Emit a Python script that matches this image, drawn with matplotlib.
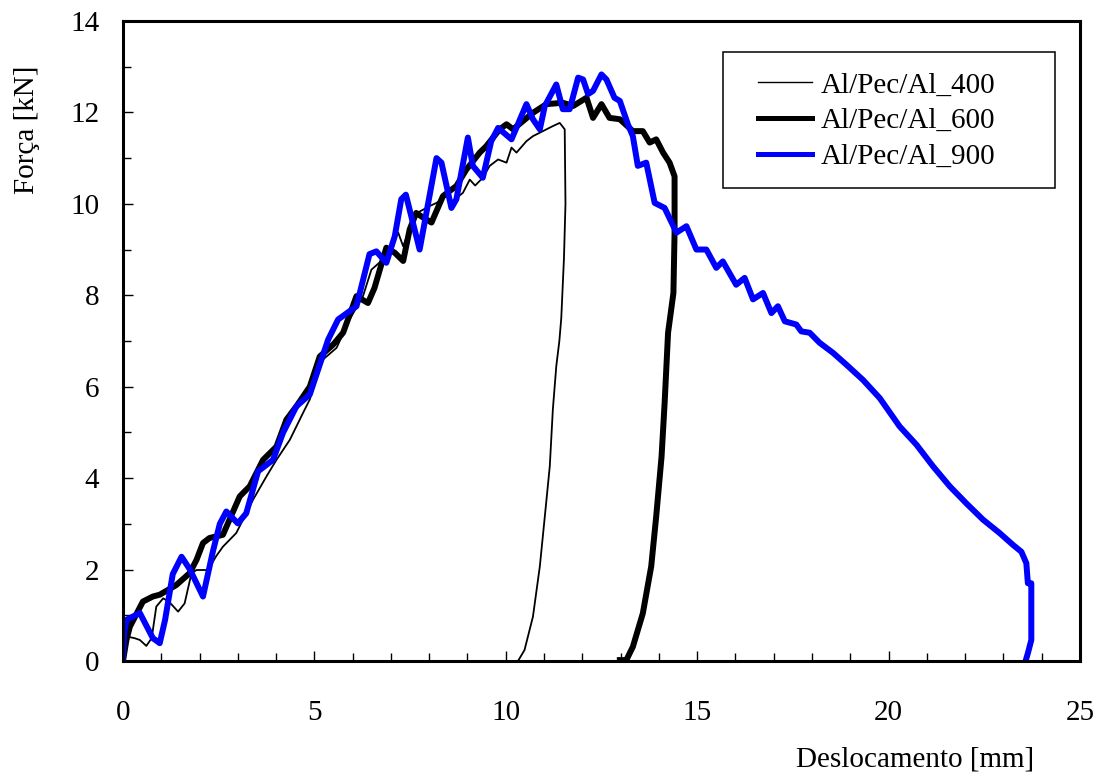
import matplotlib
matplotlib.use("Agg")
import matplotlib.pyplot as plt
from matplotlib.patches import Rectangle
from matplotlib.ticker import MultipleLocator

# Al/Pec/Al_400 (thin black)
x400 = [0, 0.04, 0.13, 0.30, 0.44, 0.61, 0.75, 0.87, 1.05, 1.20, 1.44, 1.61, 1.79, 1.92,
        2.22, 2.44, 2.61, 2.96, 3.40, 3.75, 4.01, 4.36, 4.70, 4.88, 5.22, 5.58, 5.92,
        6.27, 6.49, 6.79, 7.19, 7.32, 7.62, 8.01, 8.19, 8.45, 8.60, 8.88, 9.06, 9.20,
        9.40, 9.58, 9.80, 10.02, 10.15, 10.28, 10.54, 10.71, 10.97, 11.23, 11.41, 11.54,
        11.56, 11.52, 11.45, 11.40, 11.32, 11.23, 11.15, 11.02, 10.89, 10.71, 10.49, 10.32]
y400 = [0, 0.45, 0.53, 0.50, 0.46, 0.33, 0.50, 1.19, 1.37, 1.30, 1.08, 1.26, 1.92, 1.99,
        1.99, 2.30, 2.50, 2.80, 3.53, 4.04, 4.40, 4.84, 5.42, 5.72, 6.59, 6.85, 7.47,
        7.98, 8.56, 8.78, 9.37, 9.07, 9.77, 9.95, 10.02, 10.17, 10.05, 10.24, 10.53, 10.40,
        10.57, 10.83, 10.97, 10.90, 11.23, 11.12, 11.37, 11.48, 11.59, 11.70, 11.77, 11.63,
        10.0, 8.80, 7.50, 7.00, 6.45, 5.50, 4.26, 3.16, 2.07, 0.97, 0.24, 0.0]

# Al/Pec/Al_600 (thick black)
x600 = [0, 0.09, 0.18, 0.52, 0.78, 0.96, 1.39, 1.74, 1.92, 2.09, 2.26, 2.61, 3.05, 3.31,
        3.66, 4.01, 4.27, 4.53, 4.88, 5.14, 5.49, 5.75, 6.10, 6.40, 6.57, 6.71, 6.88,
        7.10, 7.32, 7.49, 7.66, 7.84, 8.06, 8.36, 8.71, 8.97, 9.32, 9.49, 9.84, 10.02,
        10.19, 10.71, 11.06, 11.49, 11.76, 12.11, 12.28, 12.50, 12.71, 12.98, 13.32, 13.58,
        13.76, 13.93, 14.11, 14.28, 14.41, 14.41, 14.38, 14.24, 14.15, 14.07, 13.93, 13.80,
        13.58, 13.32, 13.15, 12.98]
y600 = [0, 0.46, 0.75, 1.30, 1.41, 1.45, 1.66, 1.92, 2.21, 2.58, 2.69, 2.76, 3.60, 3.82,
        4.40, 4.69, 5.28, 5.57, 6.00, 6.66, 6.92, 7.18, 7.98, 7.83, 8.16, 8.56, 9.04,
        8.93, 8.75, 9.44, 9.80, 9.70, 9.59, 10.17, 10.39, 10.75, 11.12, 11.26, 11.63, 11.74,
        11.63, 11.99, 12.18, 12.21, 12.14, 12.32, 11.88, 12.18, 11.88, 11.85, 11.59, 11.59,
        11.34, 11.41, 11.12, 10.90, 10.60, 9.37, 8.05, 7.18, 5.64, 4.47, 3.16, 2.07,
        1.04, 0.31, 0.02, 0.02]

# Al/Pec/Al_900 (blue)
x900 = [0, 0.03, 0.09, 0.44, 0.78, 0.96, 1.10, 1.30, 1.53, 1.75, 2.09, 2.35, 2.53, 2.70,
        3.00, 3.22, 3.53, 3.92, 4.18, 4.53, 4.88, 5.36, 5.62, 6.10, 6.44, 6.62, 6.88,
        7.10, 7.27, 7.39, 7.75, 8.19, 8.32, 8.58, 8.71, 9.01, 9.14, 9.40, 9.62, 9.80,
        10.15, 10.54, 10.71, 10.89, 11.02, 11.32, 11.49, 11.67, 11.89, 12.02, 12.15, 12.28,
        12.50, 12.63, 12.84, 12.98, 13.19, 13.32, 13.45, 13.67, 13.89, 14.15, 14.46, 14.72,
        14.98, 15.24, 15.50, 15.67, 16.02, 16.24, 16.46, 16.72, 16.94, 17.11, 17.29, 17.59,
        17.72, 17.94, 18.20, 18.55, 18.90, 19.33, 19.77, 20.29, 20.73, 21.16, 21.60, 22.03,
        22.47, 22.90, 23.25, 23.47, 23.60, 23.64, 23.73, 23.73, 23.64, 23.58]
y900 = [0, 0.60, 0.90, 1.05, 0.50, 0.39, 0.90, 1.90, 2.28, 2.00, 1.41, 2.40, 3.00, 3.27,
        3.01, 3.23, 4.15, 4.40, 4.99, 5.57, 5.83, 7.03, 7.47, 7.76, 8.90, 8.96, 8.71,
        9.29, 10.10, 10.20, 9.00, 11.00, 10.90, 9.91, 10.10, 11.45, 10.83, 10.57, 11.37, 11.66,
        11.41, 12.18, 11.85, 11.63, 12.14, 12.61, 12.07, 12.07, 12.76, 12.72, 12.40, 12.47,
        12.83, 12.72, 12.32, 12.25, 11.74, 11.48, 10.83, 10.90, 10.02, 9.91, 9.37, 9.51,
        9.00, 9.00, 8.60, 8.74, 8.23, 8.38, 7.91, 8.05, 7.61, 7.76, 7.43, 7.36,
        7.21, 7.18, 6.96, 6.74, 6.48, 6.15, 5.75, 5.13, 4.73, 4.26, 3.82, 3.45,
        3.09, 2.80, 2.54, 2.39, 2.14, 1.70, 1.70, 0.46, 0.17, 0.0]

labels = ["Al/Pec/Al_400", "Al/Pec/Al_600", "Al/Pec/Al_900"]


def main():
    plt.rcParams['font.family'] = ['Liberation Serif', 'DejaVu Serif']
    fs = 21

    fig = plt.figure(figsize=(11.04, 7.73), dpi=100)
    ax = fig.add_axes([0.1114, 0.1449, 0.8668, 0.828])

    ax.plot(x400, y400, color='black', lw=1.3, label=labels[0], solid_joinstyle='round')
    ax.plot(x600, y600, color='black', lw=4.3, label=labels[1], solid_joinstyle='round')
    ax.plot(x900, y900, color='#0000ff', lw=4.3, label=labels[2], solid_joinstyle='round')

    ax.set_xlim(0, 25)
    ax.set_ylim(0, 14)
    ax.xaxis.set_major_locator(MultipleLocator(5))
    ax.xaxis.set_minor_locator(MultipleLocator(1))
    ax.yaxis.set_major_locator(MultipleLocator(2))
    ax.yaxis.set_minor_locator(MultipleLocator(1))
    ax.tick_params(which='both', direction='in', top=False, right=False, width=1)
    ax.tick_params(which='major', length=7)
    ax.tick_params(which='minor', length=5.5)
    ax.tick_params(axis='x', which='major', labelsize=fs, pad=28)
    ax.tick_params(axis='y', which='major', labelsize=fs, pad=17)
    for sp in ax.spines.values():
        sp.set_linewidth(2.2)

    ax.set_xlabel('Deslocamento [mm]', fontsize=fs)
    ax.xaxis.set_label_coords(0.828, -0.134)
    ax.set_ylabel('Força [kN]', fontsize=fs)
    ax.yaxis.set_label_coords(-0.087, 0.83)

    # legend box drawn separately (Excel-style box is wider than the entries)
    box = Rectangle((0.627, 0.739), 0.347, 0.213, transform=ax.transAxes,
                    facecolor='white', edgecolor='black', lw=1.1, zorder=4)
    ax.add_patch(box)
    leg = ax.legend(loc='upper left', bbox_to_anchor=(0.6635, 0.920), fontsize=fs,
                    frameon=False, borderpad=0, handlelength=1.86,
                    labelspacing=0.32, handletextpad=0.28, borderaxespad=0)
    leg.set_zorder(5)
    leg.legend_handles[0].set_linewidth(1.0)
    leg.legend_handles[1].set_linewidth(3.6)
    leg.legend_handles[2].set_linewidth(3.6)

    fig.savefig('out.png', dpi=100)


if __name__ == "__main__":
    main()
